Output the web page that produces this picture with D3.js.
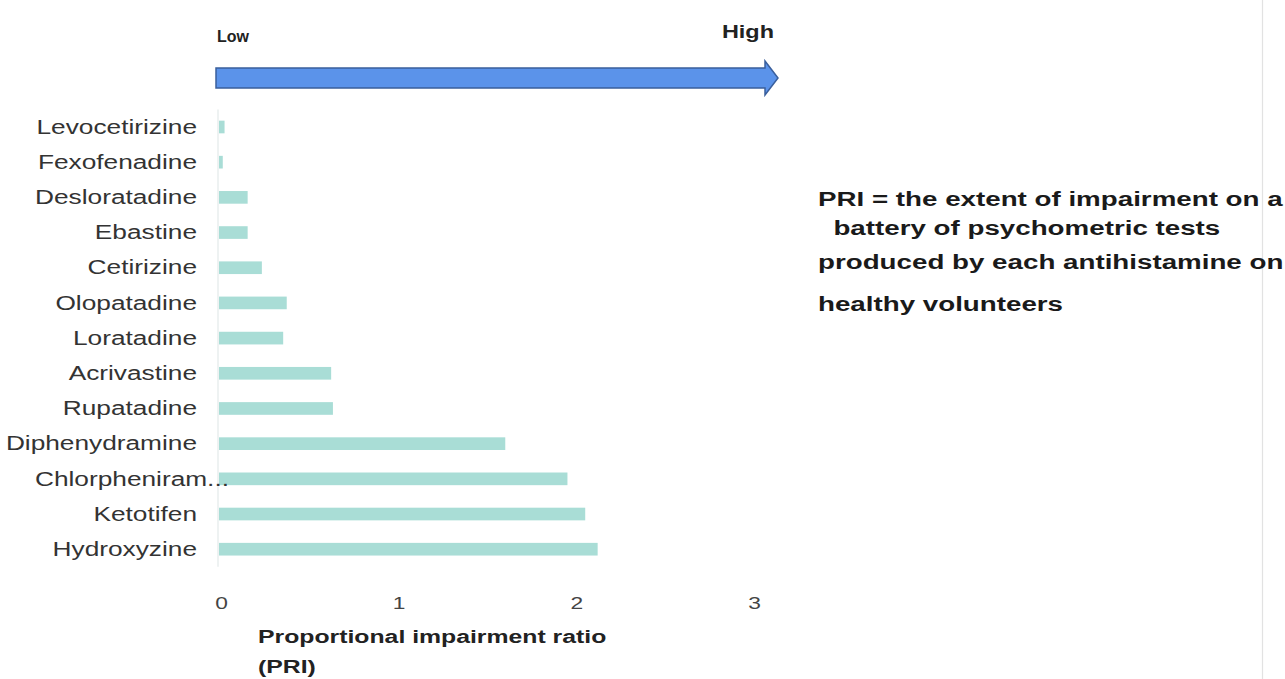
<!DOCTYPE html>
<html>
<head>
<meta charset="utf-8">
<script src="https://cdn.jsdelivr.net/npm/d3@7"></script>
<style>
  html, body { margin: 0; padding: 0; background: #ffffff; }
  svg { display: block; }
  text { font-family: "Liberation Sans", Arial, Helvetica, sans-serif; }
</style>
</head>
<body>
<div id="chart"></div>
<script>
// Antihistamines, ordered from least to most impairing
const drugs = [
  "Levocetirizine", "Fexofenadine", "Desloratadine", "Ebastine", "Cetirizine",
  "Olopatadine", "Loratadine", "Acrivastine", "Rupatadine", "Diphenydramine",
  "Chlorpheniram...", "Ketotifen", "Hydroxyzine"
];
// Proportional impairment ratio (PRI) per drug
const pri = [0.02, 0.01, 0.15, 0.15, 0.23, 0.37, 0.35, 0.62, 0.63, 1.60, 1.95, 2.05, 2.12];
const xTicks = [0, 1, 2, 3];
const noteLines = [
  "PRI = the extent of impairment on a",
  "  battery of psychometric tests",
  "produced by each antihistamine on",
  "healthy volunteers"
];

const W = 1285, H = 679;
const SX = 1.34; // horizontal stretch applied to the lettering

const svg = d3.select("#chart").append("svg")
  .attr("width", W).attr("height", H);

const x = d3.scaleLinear().domain([0, 3]).range([221, 754]);
const y = d3.scaleBand().domain(drugs).range([109.4, 566.8]).paddingInner(0.64).paddingOuter(0.32);

const data = drugs.map((d, i) => ({ name: d, value: pri[i] }));

// faint frame line on the right edge
svg.append("line")
  .attr("x1", 1262.5).attr("x2", 1262.5).attr("y1", 0).attr("y2", H)
  .attr("stroke", "#e2e2e2").attr("stroke-width", 1.2);

// faint baseline of the bars
svg.append("line")
  .attr("x1", x(0) - 3).attr("x2", x(0) - 3)
  .attr("y1", y.range()[0]).attr("y2", y.range()[1])
  .attr("stroke", "#eef2f2").attr("stroke-width", 2);

// "Low" -> "High" scale arrow
const ax0 = x(0) - 5, ax1 = x.range()[1] + 24, ay = 78;
const arrow = d3.path();
arrow.moveTo(ax0, ay - 10);
arrow.lineTo(ax1 - 13, ay - 10);
arrow.lineTo(ax1 - 13, ay - 17);
arrow.lineTo(ax1, ay);
arrow.lineTo(ax1 - 13, ay + 17);
arrow.lineTo(ax1 - 13, ay + 10);
arrow.lineTo(ax0, ay + 10);
arrow.closePath();
svg.append("path")
  .attr("d", arrow.toString())
  .attr("fill", "#5b93ea")
  .attr("stroke", "#3a5f9c")
  .attr("stroke-width", 1.5)
  .attr("stroke-linejoin", "miter");

function stretchedText(sel, tx, ty, str, opts) {
  const sx = opts.sx || SX;
  return sel.append("text")
    .attr("transform", `translate(${tx},${ty}) scale(${sx},1)`)
    .attr("text-anchor", opts.anchor || "start")
    .attr("dominant-baseline", "central")
    .attr("font-size", opts.size)
    .attr("font-weight", opts.weight || "normal")
    .attr("fill", opts.fill || "#222")
    .attr("xml:space", "preserve")
    .text(str);
}

stretchedText(svg, 217, 36, "Low", { size: 16, sx: 1.0, weight: "bold", fill: "#222" });
stretchedText(svg, 774, 32, "High", { size: 17.5, weight: "bold", fill: "#222", anchor: "end" });

// bars
svg.append("g").selectAll("rect")
  .data(data)
  .join("rect")
  .attr("x", x(0) - 2)
  .attr("y", d => y(d.name))
  .attr("width", d => Math.max(0, x(d.value) - x(0) + 2))
  .attr("height", y.bandwidth())
  .attr("fill", "#a9ddd6");

// category labels
const labels = svg.append("g");
data.forEach(d => {
  stretchedText(labels, d.name === "Chlorpheniram..." ? 229 : 197,
    y(d.name) + y.bandwidth() / 2, d.name,
    { size: 19.6, fill: "#333", anchor: "end" });
});

// x axis tick labels
const xAxis = d3.axisBottom(x).tickValues(xTicks).tickSize(0).tickPadding(0).tickFormat(d3.format("d"));
const gx = svg.append("g").attr("transform", "translate(0,603)").call(xAxis);
gx.select(".domain").remove();
gx.selectAll("text")
  .attr("font-family", "\"Liberation Sans\", Arial, sans-serif")
  .attr("font-size", 17)
  .attr("fill", "#444")
  .attr("dy", 0)
  .attr("dominant-baseline", "central")
  .attr("transform", `scale(${SX},1)`);

// axis title
stretchedText(svg, 258, 637, "Proportional impairment ratio", { size: 18.5, weight: "bold", fill: "#222" });
stretchedText(svg, 258, 667, "(PRI)", { size: 18.5, weight: "bold", fill: "#222" });

// explanatory note
const noteY = [199, 228, 262, 304];
noteLines.forEach((line, i) => {
  stretchedText(svg, 818, noteY[i], line, { size: 20.7, weight: "bold", fill: "#1a1a1a" });
});
</script>
</body>
</html>
